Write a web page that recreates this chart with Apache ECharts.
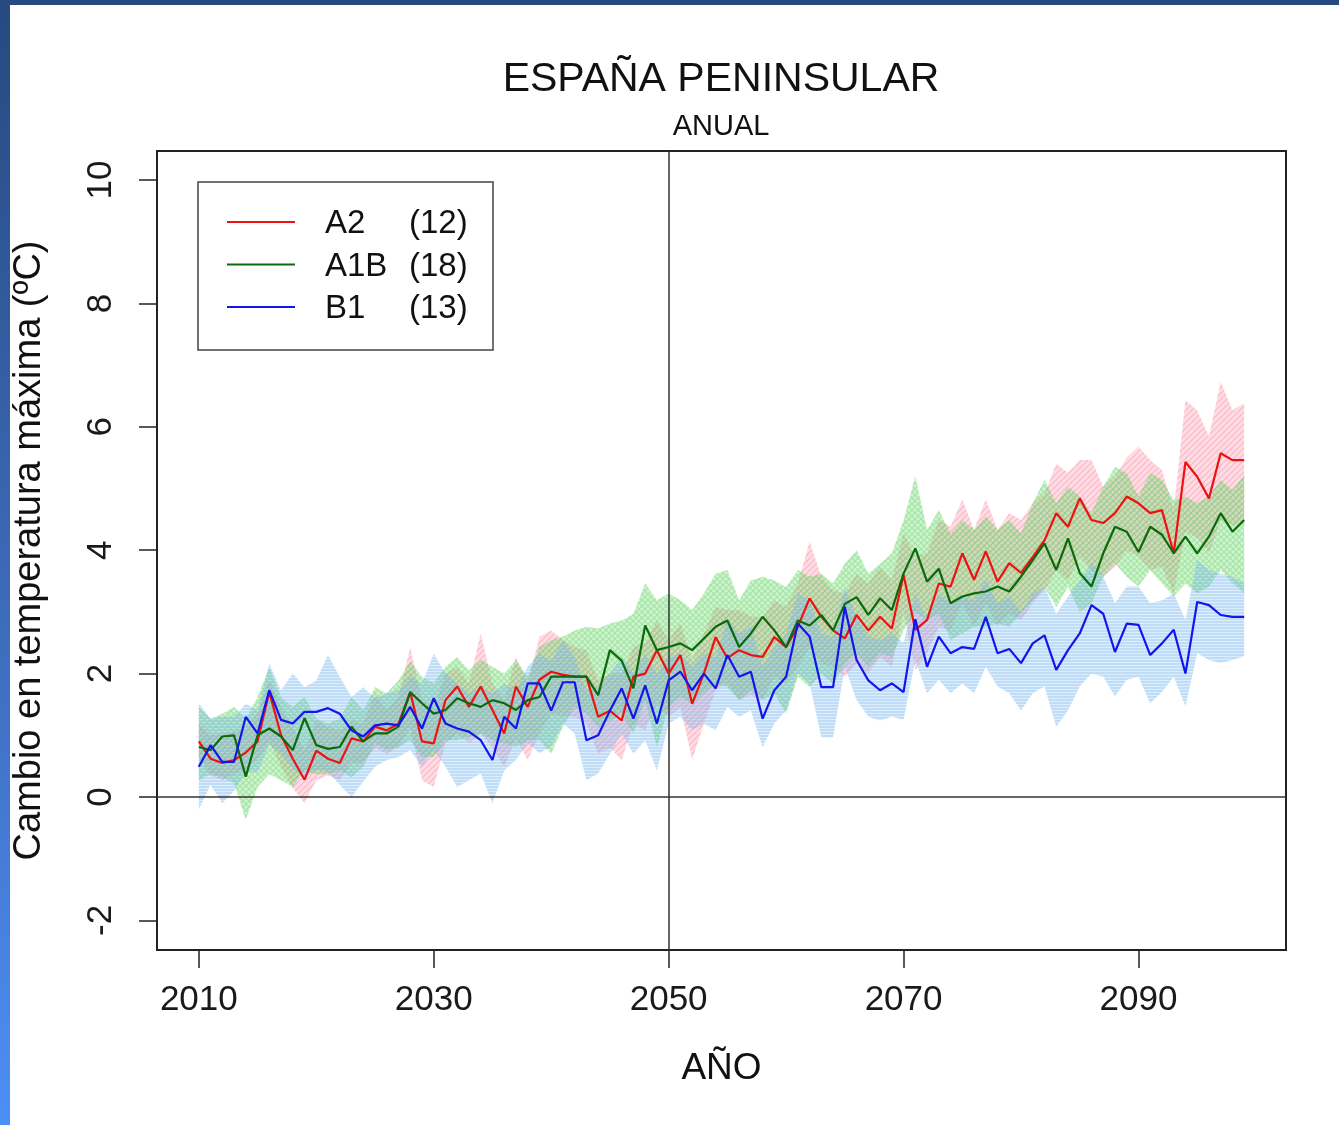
<!DOCTYPE html>
<html>
<head>
<meta charset="utf-8">
<script src="https://cdn.jsdelivr.net/npm/echarts@6/dist/echarts.min.js"></script>
<style>
html,body{margin:0;padding:0;background:#fff;width:1339px;height:1125px;overflow:hidden;}
#chart{position:absolute;left:0;top:0;width:1339px;height:1125px;}
#frameTop{position:absolute;left:0;top:0;width:1339px;height:5px;background:#264a7f;}
#frameLeft{position:absolute;left:0;top:0;width:10px;height:1125px;background:linear-gradient(#264a7f,#3f6fc0 60%,#4d8ff6);}
</style>
</head>
<body>
<div id="chart"></div>
<div id="frameTop"></div>
<div id="frameLeft"></div>
<script>
// ---- data ----
const firstYear = 2010, lastYear = 2099;
const years = Array.from({length: lastYear - firstYear + 1}, (_, i) => firstYear + i);
const xTicks = [2010, 2030, 2050, 2070, 2090];
const yTicks = [-2, 0, 2, 4, 6, 8, 10];

const a2 = [0.90,0.62,0.55,0.60,0.72,0.90,1.70,1.00,0.62,0.28,
  0.75,0.62,0.55,0.95,0.90,1.14,1.08,1.19,1.70,0.90,
  0.87,1.57,1.79,1.46,1.79,1.41,1.03,1.79,1.46,1.90,
  2.03,1.98,1.95,1.95,1.30,1.40,1.24,1.95,2.00,2.38,
  2.00,2.30,1.51,2.00,2.59,2.25,2.38,2.30,2.27,2.59,
  2.43,2.76,3.22,2.92,2.70,2.57,2.95,2.70,2.92,2.73,
  3.60,2.71,2.87,3.46,3.41,3.95,3.52,3.98,3.49,3.79,
  3.63,3.89,4.16,4.60,4.38,4.84,4.49,4.44,4.60,4.87,
  4.76,4.60,4.65,3.95,5.43,5.19,4.84,5.57,5.46,5.46];
const a2Hi = [1.19,1.00,1.03,1.06,1.14,1.35,1.89,1.46,1.14,0.75,
  1.24,1.14,1.08,1.24,1.19,1.68,1.41,1.62,2.43,1.57,
  1.46,2.00,2.11,1.84,2.65,1.84,1.57,2.27,1.84,2.60,
  2.70,2.54,2.43,2.38,1.89,2.00,2.00,2.43,2.49,2.86,
  2.54,2.81,2.22,2.65,3.08,3.03,3.03,2.92,2.92,3.19,
  3.08,3.46,4.14,3.57,3.35,3.30,3.62,3.46,3.73,3.51,
  4.27,3.90,3.95,4.49,4.38,4.82,4.33,4.82,4.33,4.60,
  4.49,4.76,4.92,5.40,5.25,5.46,5.46,5.03,5.19,5.50,
  5.68,5.46,5.30,4.65,6.43,6.27,5.84,6.73,6.27,6.38];
const a2Lo = [0.65,0.35,0.27,0.37,0.45,0.60,0.90,0.50,0.14,-0.10,
  0.27,0.35,0.27,0.55,0.55,0.80,0.70,0.80,1.14,0.27,
  0.16,0.87,1.03,0.87,1.03,0.80,0.49,0.95,0.60,1.03,
  1.35,1.30,1.30,1.19,0.70,0.80,0.60,1.19,1.08,1.51,
  1.30,1.46,0.60,1.19,1.73,1.84,1.57,1.65,1.57,1.95,
  1.84,2.11,2.43,2.16,2.11,1.95,2.16,2.00,2.27,2.11,
  3.00,2.06,2.33,2.76,2.70,3.14,2.76,3.14,2.76,2.97,
  2.87,3.14,3.35,3.68,3.51,3.90,3.68,3.57,3.73,4.00,
  3.90,3.68,3.73,3.30,4.30,4.20,3.95,4.49,4.40,4.40];

const a1b = [0.81,0.76,0.98,1.00,0.33,1.00,1.11,0.98,0.76,1.28,
  0.84,0.78,0.81,1.14,0.90,1.03,1.03,1.14,1.70,1.52,
  1.35,1.41,1.60,1.52,1.46,1.57,1.52,1.41,1.57,1.62,
  1.95,1.95,1.95,1.95,1.65,2.38,2.21,1.76,2.78,2.38,
  2.43,2.49,2.38,2.57,2.76,2.86,2.43,2.65,2.92,2.70,
  2.43,2.86,2.78,2.95,2.70,3.13,3.24,2.95,3.22,3.03,
  3.62,4.03,3.49,3.70,3.14,3.25,3.30,3.33,3.41,3.33,
  3.57,3.84,4.11,3.68,4.19,3.63,3.41,3.95,4.38,4.30,
  3.97,4.38,4.25,3.95,4.22,3.95,4.22,4.60,4.30,4.49];
const a1bHi = [1.46,1.27,1.35,1.46,1.27,1.62,2.10,1.62,1.46,1.62,
  1.27,1.19,1.27,1.62,1.41,1.78,1.68,1.89,2.20,1.95,
  1.84,2.11,2.27,2.05,2.22,2.11,2.00,2.22,1.95,2.43,
  2.54,2.60,2.70,2.76,2.73,2.81,2.86,2.97,3.46,3.19,
  3.30,3.19,3.03,3.30,3.62,3.68,3.19,3.51,3.57,3.51,
  3.40,3.68,3.57,3.62,3.46,3.78,4.00,3.62,3.78,3.95,
  4.48,5.20,4.33,4.65,4.27,4.49,4.33,4.54,4.33,4.49,
  4.27,4.76,5.14,4.76,5.03,4.87,4.60,5.03,5.35,5.25,
  4.87,5.25,5.14,4.81,4.87,4.76,4.87,5.14,4.98,5.22];
const a1bLo = [0.27,0.37,0.32,0.22,-0.37,0.16,0.37,0.27,0.16,0.43,
  0.37,0.37,0.43,0.32,0.49,0.87,0.76,0.81,0.92,0.65,
  0.65,0.92,0.92,0.97,1.03,0.92,0.87,0.81,0.92,0.92,
  0.70,1.14,1.46,1.35,1.14,1.24,1.35,1.03,1.57,0.81,
  1.46,1.62,1.51,1.68,1.84,1.78,1.57,1.73,1.57,1.68,
  1.35,1.95,1.78,2.00,1.84,2.16,2.33,2.11,2.33,2.27,
  2.70,3.00,2.87,2.97,2.55,2.65,2.76,2.76,2.81,2.76,
  2.97,3.19,3.41,3.08,3.41,3.00,3.14,3.57,3.79,3.57,
  3.41,3.68,3.46,3.25,3.46,3.30,3.41,3.68,3.46,3.30];

const b1 = [0.49,0.84,0.57,0.57,1.30,1.03,1.73,1.25,1.19,1.38,
  1.38,1.44,1.35,1.08,0.98,1.16,1.19,1.16,1.46,1.11,
  1.60,1.19,1.11,1.06,0.92,0.60,1.30,1.11,1.84,1.84,
  1.40,1.86,1.86,0.92,1.00,1.40,1.76,1.27,1.81,1.19,
  1.89,2.03,1.73,2.00,1.76,2.30,1.95,2.03,1.27,1.73,
  1.95,2.81,2.60,1.78,1.78,3.08,2.22,1.89,1.73,1.84,
  1.70,2.88,2.11,2.60,2.33,2.43,2.40,2.92,2.33,2.40,
  2.17,2.49,2.62,2.06,2.38,2.65,3.11,2.97,2.35,2.81,
  2.79,2.30,2.49,2.71,2.00,3.16,3.11,2.95,2.92,2.92];
const b1Hi = [1.52,1.27,1.30,1.30,1.51,1.41,2.16,1.73,2.00,1.78,
  1.89,2.30,1.95,1.62,1.78,1.60,1.68,1.73,1.95,1.84,
  2.32,2.00,1.84,1.68,1.78,1.68,1.84,1.73,2.11,2.32,
  2.20,2.54,2.27,1.73,1.78,2.00,2.27,2.00,2.32,2.00,
  2.27,2.32,2.11,2.32,2.27,2.86,2.65,2.76,2.11,2.43,
  2.65,3.30,3.19,2.65,2.60,3.40,2.92,2.60,2.54,2.65,
  2.50,3.30,2.87,3.30,3.14,3.25,3.19,3.52,3.14,3.25,
  3.00,3.30,3.41,2.97,3.25,3.51,3.79,3.57,3.14,3.41,
  3.41,3.14,3.19,3.30,2.87,3.84,3.68,3.62,3.57,3.46];
const b1Lo = [-0.20,0.20,-0.10,0.10,0.40,0.40,0.85,0.70,0.45,0.30,
  0.45,0.40,0.20,0.00,0.25,0.49,0.60,0.65,0.76,0.49,
  0.76,0.49,0.16,0.27,0.38,-0.10,0.43,0.60,0.87,0.71,
  0.82,1.19,1.03,0.27,0.38,0.70,1.03,0.70,0.92,0.43,
  1.19,1.30,1.08,1.19,1.08,1.46,1.30,1.40,0.81,1.19,
  1.40,2.00,1.84,0.97,0.97,2.11,1.57,1.30,1.24,1.30,
  1.25,2.22,1.68,1.90,1.68,1.84,1.68,2.11,1.79,1.68,
  1.40,1.68,1.79,1.14,1.40,1.79,2.00,1.95,1.63,1.90,
  1.95,1.52,1.70,1.95,1.47,2.33,2.22,2.17,2.22,2.28];

const scenarioNames = ['A2', 'A1B', 'B1'];
const modelCounts = ['(12)', '(18)', '(13)'];
const titleText = 'ESPAÑA PENINSULAR';
const subtitleText = 'ANUAL';
const xName = 'AÑO';
const yName = 'Cambio en temperatura máxima (ºC)';

// ---- styles ----
const FONT = "'Liberation Sans', Arial, Helvetica, sans-serif";
const lineColors = ['#ee1111', '#0b6a0b', '#1414ee'];

// textured fills resembling the hatched polygons of the original
function makePattern(kind, base, ink) {
  const c = document.createElement('canvas');
  c.width = 6; c.height = 6;
  const g = c.getContext('2d');
  g.fillStyle = base; g.fillRect(0, 0, 6, 6);
  g.strokeStyle = ink; g.lineWidth = 1.2;
  g.beginPath();
  if (kind === 'horiz') {
    g.moveTo(0, 1); g.lineTo(6, 1);
    g.moveTo(0, 4); g.lineTo(6, 4);
  } else if (kind === 'diag') {
    g.moveTo(-1, 7); g.lineTo(7, -1);
    g.moveTo(-4, 4); g.lineTo(4, -4);
    g.moveTo(2, 10); g.lineTo(10, 2);
  } else {
    g.moveTo(-1, 7); g.lineTo(7, -1);
    g.moveTo(-1, -1); g.lineTo(7, 7);
  }
  g.stroke();
  return {image: c, repeat: 'repeat'};
}
const bandFills = [
  makePattern('diag', 'rgba(255,140,165,0.30)', 'rgba(255,110,145,0.36)'),
  makePattern('cross', 'rgba(105,218,105,0.32)', 'rgba(85,205,85,0.36)'),
  makePattern('horiz', 'rgba(135,192,240,0.28)', 'rgba(105,178,235,0.50)')
];

function bandSeries(name, lo, hi, fill, z) {
  return {
    type: 'custom',
    name: name + ' band',
    silent: true,
    z: z,
    clip: true,
    data: years.map((y, i) => [y, lo[i], hi[i]]),
    encode: {x: 0, y: [1, 2]},
    renderItem: function (params, api) {
      if (params.dataIndex !== 0) return null;
      const pts = [];
      for (let i = 0; i < years.length; i++) pts.push(api.coord([years[i], hi[i]]));
      for (let i = years.length - 1; i >= 0; i--) pts.push(api.coord([years[i], lo[i]]));
      return {type: 'polygon', shape: {points: pts}, style: {fill: fill, stroke: null}};
    }
  };
}
function lineSeries(name, vals, color, z) {
  return {
    type: 'line', name: name, z: z,
    data: years.map((y, i) => [y, vals[i]]),
    showSymbol: false, symbol: 'none', silent: true,
    lineStyle: {color: color, width: 2.2},
    itemStyle: {color: color}
  };
}

const series = [
  bandSeries('A2', a2Lo, a2Hi, bandFills[0], 1),
  bandSeries('A1B', a1bLo, a1bHi, bandFills[1], 2),
  bandSeries('B1', b1Lo, b1Hi, bandFills[2], 3),
  lineSeries('A2', a2, lineColors[0], 5),
  lineSeries('A1B', a1b, lineColors[1], 6),
  lineSeries('B1', b1, lineColors[2], 7),
  {
    type: 'line', name: 'ref', data: [], z: 8, silent: true,
    markLine: {
      symbol: 'none', silent: true, animation: false,
      label: {show: false},
      lineStyle: {color: '#333', width: 1.5, type: 'solid'},
      data: [{xAxis: 2050}, {yAxis: 0}]
    }
  }
];

// legend drawn with graphic elements
const legendGraphics = [{
  type: 'rect', shape: {x: 198, y: 182, width: 295, height: 168},
  style: {fill: '#fff', stroke: '#444', lineWidth: 1.5}, z: 50
}];
scenarioNames.forEach((n, i) => {
  const yy = 222 + i * 42.5;
  legendGraphics.push({type: 'line', shape: {x1: 227, y1: yy, x2: 295, y2: yy},
    style: {stroke: lineColors[i], lineWidth: 2.2}, z: 51});
  legendGraphics.push({type: 'text', x: 325, y: yy + 2,
    style: {text: n, font: '33px ' + FONT, fill: '#111', textVerticalAlign: 'middle'}, z: 51});
  legendGraphics.push({type: 'text', x: 409, y: yy + 2,
    style: {text: modelCounts[i], font: '33px ' + FONT, fill: '#111', textVerticalAlign: 'middle'}, z: 51});
});

const option = {
  animation: false,
  backgroundColor: 'transparent',
  textStyle: {fontFamily: FONT},
  grid: {left: 157, right: 53, top: 151, bottom: 175, show: true, borderColor: '#222', borderWidth: 2, backgroundColor: 'transparent'},
  xAxis: {
    type: 'value', min: 2006.44, max: 2102.56,
    axisLine: {show: false, onZero: false},
    axisTick: {show: true, customValues: xTicks, length: 18, lineStyle: {color: '#222', width: 1.5}},
    axisLabel: {customValues: xTicks, fontSize: 35, color: '#1a1a1a', margin: 33, fontFamily: FONT,
      formatter: v => String(v)},
    splitLine: {show: false},
    name: xName, nameLocation: 'middle', nameGap: 100,
    nameTextStyle: {fontSize: 37, color: '#111', fontFamily: FONT}
  },
  yAxis: {
    type: 'value', min: -2.48, max: 10.47,
    axisLine: {show: false, onZero: false},
    axisTick: {show: true, customValues: yTicks, length: 18, lineStyle: {color: '#222', width: 1.5}},
    axisLabel: {customValues: yTicks, fontSize: 35, color: '#1a1a1a', margin: 38, rotate: 90, fontFamily: FONT,
      formatter: v => String(v)},
    splitLine: {show: false},
    name: yName, nameLocation: 'middle', nameGap: 108, nameRotate: 90,
    nameTextStyle: {fontSize: 38, color: '#111', fontFamily: FONT}
  },
  graphic: [
    {type: 'text', x: 721, y: 80, style: {text: titleText, font: '41px ' + FONT, fill: '#111', textAlign: 'center', textVerticalAlign: 'middle'}},
    {type: 'text', x: 721, y: 127, style: {text: subtitleText, font: '29px ' + FONT, fill: '#111', textAlign: 'center', textVerticalAlign: 'middle'}}
  ].concat(legendGraphics),
  series: series
};

const chart = echarts.init(document.getElementById('chart'), null, {renderer: 'canvas'});
chart.setOption(option);
</script>
</body>
</html>
